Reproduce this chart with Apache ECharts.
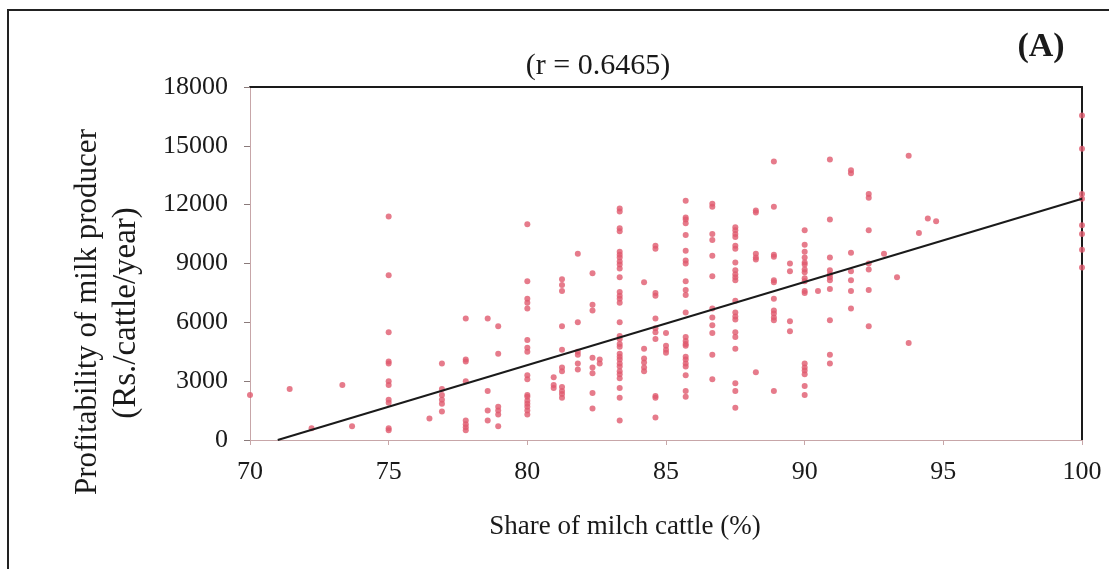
<!DOCTYPE html>
<html>
<head>
<meta charset="utf-8">
<script src="https://cdn.jsdelivr.net/npm/echarts@6/dist/echarts.min.js"></script>
<style>
html,body{margin:0;padding:0;background:#fff;}
#chart{width:1109px;height:569px;}
</style>
</head>
<body>
<div id="chart"></div>
<script>
// Share of milch cattle (%) — one entry per column of points
const shareValues = [70, 71.43, 72.22, 73.33, 73.68, 75, 76.47, 76.92, 77.78, 78.57, 78.95,
  80, 80.95, 81.25, 81.82, 82.35, 82.61, 83.33, 84.21, 84.62, 85, 85.71, 86.67, 87.5,
  88.24, 88.89, 89.47, 90, 90.48, 90.91, 91.67, 92.31, 92.86, 93.33, 93.75, 94.12, 94.44, 94.74, 100];

// Profitability of milk producer (Rs./cattle/year) for each share value above
const profitValues = [
  [2300],
  [2600],
  [600],
  [2800],
  [700],
  [11400, 8400, 5500, 4000, 3900, 3000, 2800, 2050, 1900, 600, 500],
  [1100],
  [3900, 2600, 2300, 2050, 1850, 1450],
  [6200, 4100, 4000, 3000, 1000, 800, 650, 500],
  [6200, 2500, 1500, 1000],
  [5800, 4400, 1700, 1500, 1300, 700],
  [11000, 8100, 7200, 7000, 6700, 5100, 4700, 4500, 3300, 3100, 2300, 2200, 2000, 1850, 1700, 1500, 1300],
  [3200, 2800, 2650],
  [8200, 7900, 7600, 5800, 4600, 3700, 3500, 2700, 2500, 2350, 2150],
  [9500, 6000, 4500, 4350, 3900, 3600],
  [8500, 6900, 6600, 4200, 3700, 3400, 2400, 1600],
  [4100, 3900],
  [11800, 11650, 10800, 10650, 9600, 9450, 9300, 9100, 8950, 8750, 8300, 7550, 7350, 7200, 7000, 6000,
   5300, 5150, 4900, 4750, 4400, 4250, 4100, 3900, 3750, 3500, 3350, 3150, 2650, 2150, 1000],
  [8050, 4650, 4150, 3950, 3700, 3500],
  [9900, 9750, 7500, 7350, 6200, 5700, 5500, 5150, 2250, 2150, 1150],
  [5450, 4800, 4600, 4450],
  [12200, 11350, 11250, 11050, 10450, 9650, 9150, 9000, 8100, 7650, 7400, 6500, 5250, 5050, 4900, 4800,
   4250, 4100, 3900, 3750, 3300, 2500, 2200],
  [12050, 11900, 10500, 10200, 9400, 8350, 6700, 6250, 5850, 5450, 4350, 3100],
  [10850, 10700, 10500, 10350, 9900, 9750, 9050, 8650, 8450, 8300, 8150, 7100, 6500, 6300, 6150, 5500,
   5250, 4650, 2900, 2500, 1650],
  [11700, 11600, 9500, 9300, 9200, 3450],
  [14200, 11900, 9450, 9350, 8150, 8050, 7200, 6600, 6450, 6250, 6100, 2500],
  [9000, 8600, 6050, 5550],
  [10700, 9950, 9600, 9300, 9050, 8950, 8700, 8550, 8250, 8100, 7600, 7500, 3900, 3700, 3550, 3350, 2750, 2300],
  [7600],
  [14300, 11250, 9300, 8650, 8450, 8300, 8150, 7700, 6100, 4350, 3900],
  [13750, 13600, 9550, 8600, 8150, 7600, 6700],
  [12550, 12350, 10700, 9000, 8700, 7650, 5800],
  [9500],
  [8300],
  [14500, 4950],
  [10550],
  [11300],
  [11150],
  [16550, 14850, 12550, 12300, 10950, 10500, 9700, 8800]
];

const xTicks = { min: 70, max: 100, interval: 5 };
const yTicks = { min: 0, max: 18000, interval: 3000 };

// Fitted trend line
const trendSlope = 424.1;
const trendIntercept = -30111;

const titleText = '(r = 0.6465)';
const panelText = '(A)';
const xName = 'Share of milch cattle (%)';
const yNameLine1 = 'Profitability of milk producer';
const yNameLine2 = '(Rs./cattle/year)';

const points = [];
shareValues.forEach((s, i) => profitValues[i].forEach(p => points.push([s, p])));

const trendStartX = -trendIntercept / trendSlope;
const trendEndX = xTicks.max;
const trendData = [
  [trendStartX, trendSlope * trendStartX + trendIntercept],
  [trendEndX, trendSlope * trendEndX + trendIntercept]
];

const serif = "'Liberation Serif', 'DejaVu Serif', serif";
const axisColor = '#c7a6a8';
const plain = v => String(v);

const chart = echarts.init(document.getElementById('chart'));
chart.setOption({
  backgroundColor: '#ffffff',
  animation: false,
  grid: { left: 250, right: 27, top: 87, bottom: 129, containLabel: false },
  xAxis: [{
    type: 'value', min: xTicks.min, max: xTicks.max, interval: xTicks.interval,
    axisLine: { show: true, onZero: false, lineStyle: { color: axisColor, width: 1 } },
    axisTick: { show: true, length: 5, lineStyle: { color: axisColor } },
    axisLabel: { color: '#1a1a1a', fontFamily: serif, fontSize: 26, margin: 19, formatter: plain },
    splitLine: { show: false }
  }, {
    type: 'value', position: 'top', min: xTicks.min, max: xTicks.max,
    axisLine: { show: true, onZero: false, lineStyle: { color: '#1a1a1a', width: 2 } },
    axisTick: { show: false }, axisLabel: { show: false }, splitLine: { show: false }
  }],
  yAxis: [{
    type: 'value', min: yTicks.min, max: yTicks.max, interval: yTicks.interval,
    axisLine: { show: true, onZero: false, lineStyle: { color: axisColor, width: 1 } },
    axisTick: { show: true, length: 6, lineStyle: { color: '#8a7a7a' } },
    axisLabel: { color: '#1a1a1a', fontFamily: serif, fontSize: 26, margin: 22, formatter: plain },
    splitLine: { show: false }
  }, {
    type: 'value', position: 'right', min: yTicks.min, max: yTicks.max,
    axisLine: { show: true, onZero: false, lineStyle: { color: '#1a1a1a', width: 2 } },
    axisTick: { show: false }, axisLabel: { show: false }, splitLine: { show: false }
  }],
  series: [{
    type: 'scatter',
    data: points,
    symbol: 'circle',
    symbolSize: 6,
    itemStyle: { color: '#e05a6e' },
    z: 3
  }, {
    type: 'line',
    data: trendData,
    symbol: 'none',
    lineStyle: { color: '#1a1a1a', width: 2 },
    z: 4
  }],
  graphic: [
    { type: 'rect', shape: { x: 8, y: 10, width: 1130, height: 590 },
      style: { fill: 'none', stroke: '#222', lineWidth: 2 }, silent: true },
    { type: 'text', x: 598, y: 66,
      style: { text: titleText, font: "30px " + serif, fill: '#1a1a1a', align: 'center', verticalAlign: 'middle' } },
    { type: 'text', x: 1041, y: 47,
      style: { text: panelText, font: "bold 34px " + serif, fill: '#1a1a1a', align: 'center', verticalAlign: 'middle' } },
    { type: 'text', x: 625, y: 527,
      style: { text: xName, font: "27px " + serif, fill: '#1a1a1a', align: 'center', verticalAlign: 'middle' } },
    { type: 'text', x: 88, y: 312, rotation: Math.PI / 2,
      style: { text: yNameLine1, font: "31px " + serif, fill: '#1a1a1a', align: 'center', verticalAlign: 'middle' } },
    { type: 'text', x: 126, y: 313, rotation: Math.PI / 2,
      style: { text: yNameLine2, font: "33px " + serif, fill: '#1a1a1a', align: 'center', verticalAlign: 'middle' } }
  ]
});
</script>
</body>
</html>
